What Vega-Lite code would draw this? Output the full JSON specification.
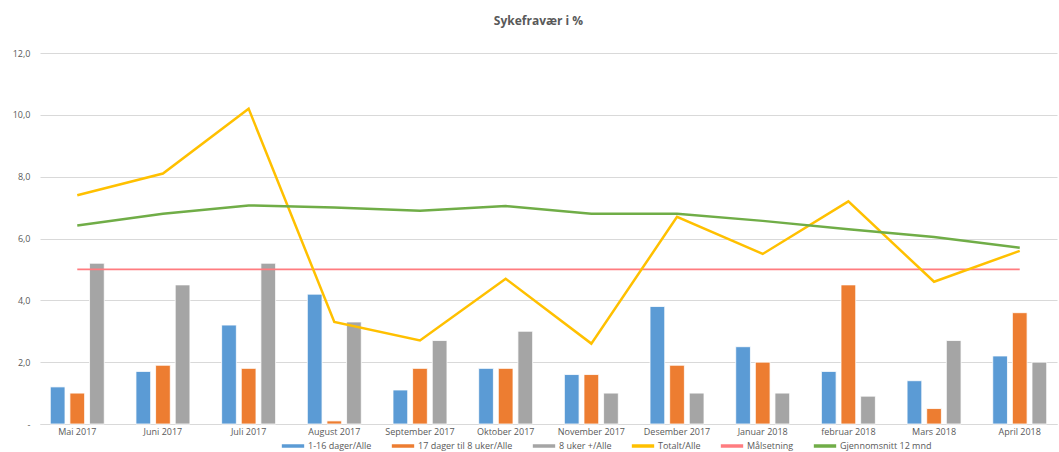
{
  "$schema": "https://vega.github.io/schema/vega-lite/v6.json",
  "autosize": "none",
  "width": 1017,
  "height": 371,
  "padding": {"left": 40, "top": 53, "right": 2, "bottom": 28},
  "background": "white",
  "title": {"text": "Sykefravær i %", "fontSize": 12, "fontWeight": "bold", "color": "#595959", "font": "Open Sans", "offset": 21, "dx": -10},
  "config": {"view": {"stroke": null}, "font": "Open Sans"},
  "datasets": {
    "bars": [
      {"maned": "Mai 2017", "serie": "1-16 dager/Alle", "verdi": 1.2},
      {"maned": "Mai 2017", "serie": "17 dager til 8 uker/Alle", "verdi": 1.0},
      {"maned": "Mai 2017", "serie": "8 uker +/Alle", "verdi": 5.2},
      {"maned": "Juni 2017", "serie": "1-16 dager/Alle", "verdi": 1.7},
      {"maned": "Juni 2017", "serie": "17 dager til 8 uker/Alle", "verdi": 1.9},
      {"maned": "Juni 2017", "serie": "8 uker +/Alle", "verdi": 4.5},
      {"maned": "Juli 2017", "serie": "1-16 dager/Alle", "verdi": 3.2},
      {"maned": "Juli 2017", "serie": "17 dager til 8 uker/Alle", "verdi": 1.8},
      {"maned": "Juli 2017", "serie": "8 uker +/Alle", "verdi": 5.2},
      {"maned": "August 2017", "serie": "1-16 dager/Alle", "verdi": 4.2},
      {"maned": "August 2017", "serie": "17 dager til 8 uker/Alle", "verdi": 0.1},
      {"maned": "August 2017", "serie": "8 uker +/Alle", "verdi": 3.3},
      {"maned": "September 2017", "serie": "1-16 dager/Alle", "verdi": 1.1},
      {"maned": "September 2017", "serie": "17 dager til 8 uker/Alle", "verdi": 1.8},
      {"maned": "September 2017", "serie": "8 uker +/Alle", "verdi": 2.7},
      {"maned": "Oktober 2017", "serie": "1-16 dager/Alle", "verdi": 1.8},
      {"maned": "Oktober 2017", "serie": "17 dager til 8 uker/Alle", "verdi": 1.8},
      {"maned": "Oktober 2017", "serie": "8 uker +/Alle", "verdi": 3.0},
      {"maned": "November 2017", "serie": "1-16 dager/Alle", "verdi": 1.6},
      {"maned": "November 2017", "serie": "17 dager til 8 uker/Alle", "verdi": 1.6},
      {"maned": "November 2017", "serie": "8 uker +/Alle", "verdi": 1.0},
      {"maned": "Desember 2017", "serie": "1-16 dager/Alle", "verdi": 3.8},
      {"maned": "Desember 2017", "serie": "17 dager til 8 uker/Alle", "verdi": 1.9},
      {"maned": "Desember 2017", "serie": "8 uker +/Alle", "verdi": 1.0},
      {"maned": "Januar 2018", "serie": "1-16 dager/Alle", "verdi": 2.5},
      {"maned": "Januar 2018", "serie": "17 dager til 8 uker/Alle", "verdi": 2.0},
      {"maned": "Januar 2018", "serie": "8 uker +/Alle", "verdi": 1.0},
      {"maned": "februar 2018", "serie": "1-16 dager/Alle", "verdi": 1.7},
      {"maned": "februar 2018", "serie": "17 dager til 8 uker/Alle", "verdi": 4.5},
      {"maned": "februar 2018", "serie": "8 uker +/Alle", "verdi": 0.9},
      {"maned": "Mars 2018", "serie": "1-16 dager/Alle", "verdi": 1.4},
      {"maned": "Mars 2018", "serie": "17 dager til 8 uker/Alle", "verdi": 0.5},
      {"maned": "Mars 2018", "serie": "8 uker +/Alle", "verdi": 2.7},
      {"maned": "April 2018", "serie": "1-16 dager/Alle", "verdi": 2.2},
      {"maned": "April 2018", "serie": "17 dager til 8 uker/Alle", "verdi": 3.6},
      {"maned": "April 2018", "serie": "8 uker +/Alle", "verdi": 2.0}
    ],
    "lines": [
      {"maned": "Mai 2017", "serie": "Totalt/Alle", "verdi": 7.4},
      {"maned": "Juni 2017", "serie": "Totalt/Alle", "verdi": 8.1},
      {"maned": "Juli 2017", "serie": "Totalt/Alle", "verdi": 10.2},
      {"maned": "August 2017", "serie": "Totalt/Alle", "verdi": 3.3},
      {"maned": "September 2017", "serie": "Totalt/Alle", "verdi": 2.7},
      {"maned": "Oktober 2017", "serie": "Totalt/Alle", "verdi": 4.7},
      {"maned": "November 2017", "serie": "Totalt/Alle", "verdi": 2.6},
      {"maned": "Desember 2017", "serie": "Totalt/Alle", "verdi": 6.7},
      {"maned": "Januar 2018", "serie": "Totalt/Alle", "verdi": 5.5},
      {"maned": "februar 2018", "serie": "Totalt/Alle", "verdi": 7.2},
      {"maned": "Mars 2018", "serie": "Totalt/Alle", "verdi": 4.6},
      {"maned": "April 2018", "serie": "Totalt/Alle", "verdi": 5.6},
      {"maned": "Mai 2017", "serie": "Målsetning", "verdi": 5.0},
      {"maned": "Juni 2017", "serie": "Målsetning", "verdi": 5.0},
      {"maned": "Juli 2017", "serie": "Målsetning", "verdi": 5.0},
      {"maned": "August 2017", "serie": "Målsetning", "verdi": 5.0},
      {"maned": "September 2017", "serie": "Målsetning", "verdi": 5.0},
      {"maned": "Oktober 2017", "serie": "Målsetning", "verdi": 5.0},
      {"maned": "November 2017", "serie": "Målsetning", "verdi": 5.0},
      {"maned": "Desember 2017", "serie": "Målsetning", "verdi": 5.0},
      {"maned": "Januar 2018", "serie": "Målsetning", "verdi": 5.0},
      {"maned": "februar 2018", "serie": "Målsetning", "verdi": 5.0},
      {"maned": "Mars 2018", "serie": "Målsetning", "verdi": 5.0},
      {"maned": "April 2018", "serie": "Målsetning", "verdi": 5.0},
      {"maned": "Mai 2017", "serie": "Gjennomsnitt 12 mnd", "verdi": 6.42},
      {"maned": "Juni 2017", "serie": "Gjennomsnitt 12 mnd", "verdi": 6.8},
      {"maned": "Juli 2017", "serie": "Gjennomsnitt 12 mnd", "verdi": 7.07},
      {"maned": "August 2017", "serie": "Gjennomsnitt 12 mnd", "verdi": 7.0},
      {"maned": "September 2017", "serie": "Gjennomsnitt 12 mnd", "verdi": 6.9},
      {"maned": "Oktober 2017", "serie": "Gjennomsnitt 12 mnd", "verdi": 7.05},
      {"maned": "November 2017", "serie": "Gjennomsnitt 12 mnd", "verdi": 6.8},
      {"maned": "Desember 2017", "serie": "Gjennomsnitt 12 mnd", "verdi": 6.8},
      {"maned": "Januar 2018", "serie": "Gjennomsnitt 12 mnd", "verdi": 6.57},
      {"maned": "februar 2018", "serie": "Gjennomsnitt 12 mnd", "verdi": 6.3},
      {"maned": "Mars 2018", "serie": "Gjennomsnitt 12 mnd", "verdi": 6.05},
      {"maned": "April 2018", "serie": "Gjennomsnitt 12 mnd", "verdi": 5.7}
    ]
  },
  "encoding": {
    "x": {
      "field": "maned", "type": "nominal", "title": null,
      "scale": {"domain": ["Mai 2017", "Juni 2017", "Juli 2017", "August 2017", "September 2017", "Oktober 2017", "November 2017", "Desember 2017", "Januar 2018", "februar 2018", "Mars 2018", "April 2018"], "paddingInner": 0.37, "paddingOuter": 0.12},
      "axis": {"labelAngle": 0, "labelFontSize": 9, "labelColor": "#595959", "labelPadding": 3, "ticks": false, "domainColor": "#d9d9d9", "grid": false}
    },
    "y": {
      "field": "verdi", "type": "quantitative", "title": null,
      "scale": {"domain": [0, 12], "nice": false},
      "axis": {"values": [0, 2, 4, 6, 8, 10, 12], "labelExpr": "datum.value == 0 ? '-' : replace(format(datum.value, '.1f'), '.', ',')", "labelFontSize": 9, "labelColor": "#595959", "labelPadding": 10, "ticks": false, "domain": false, "gridColor": "#d9d9d9", "gridWidth": 1}
    },
    "color": {
      "field": "serie", "type": "nominal", "title": null,
      "scale": {
        "domain": ["1-16 dager/Alle", "17 dager til 8 uker/Alle", "8 uker +/Alle", "Totalt/Alle", "Målsetning", "Gjennomsnitt 12 mnd"],
        "range": ["#5b9bd5", "#ed7d31", "#a5a5a5", "#ffc000", "#ff7c80", "#70ad47"]
      },
      "legend": {"orient": "none", "legendX": 240, "legendY": 380, "direction": "horizontal", "symbolType": "stroke", "symbolStrokeWidth": 3.5, "symbolSize": 500, "labelFontSize": 9, "labelColor": "#595959", "columnPadding": 12, "symbolOffset": 0, "labelOffset": 2}
    }
  },
  "layer": [
    {
      "data": {"name": "bars"},
      "mark": {"type": "bar", "stroke": "white", "strokeWidth": 0.8},
      "encoding": {
        "xOffset": {"field": "serie", "type": "nominal", "scale": {"domain": ["1-16 dager/Alle", "17 dager til 8 uker/Alle", "8 uker +/Alle"], "paddingInner": 0.25, "paddingOuter": 0}}
      }
    },
    {
      "data": {"name": "lines"},
      "transform": [{"filter": "datum.serie == 'Målsetning'"}],
      "mark": {"type": "line", "strokeWidth": 1.7},
      "encoding": {}
    },
    {
      "data": {"name": "lines"},
      "transform": [{"filter": "datum.serie == 'Totalt/Alle'"}],
      "mark": {"type": "line", "strokeWidth": 2.5},
      "encoding": {}
    },
    {
      "data": {"name": "lines"},
      "transform": [{"filter": "datum.serie == 'Gjennomsnitt 12 mnd'"}],
      "mark": {"type": "line", "strokeWidth": 2.5},
      "encoding": {}
    }
  ]
}
